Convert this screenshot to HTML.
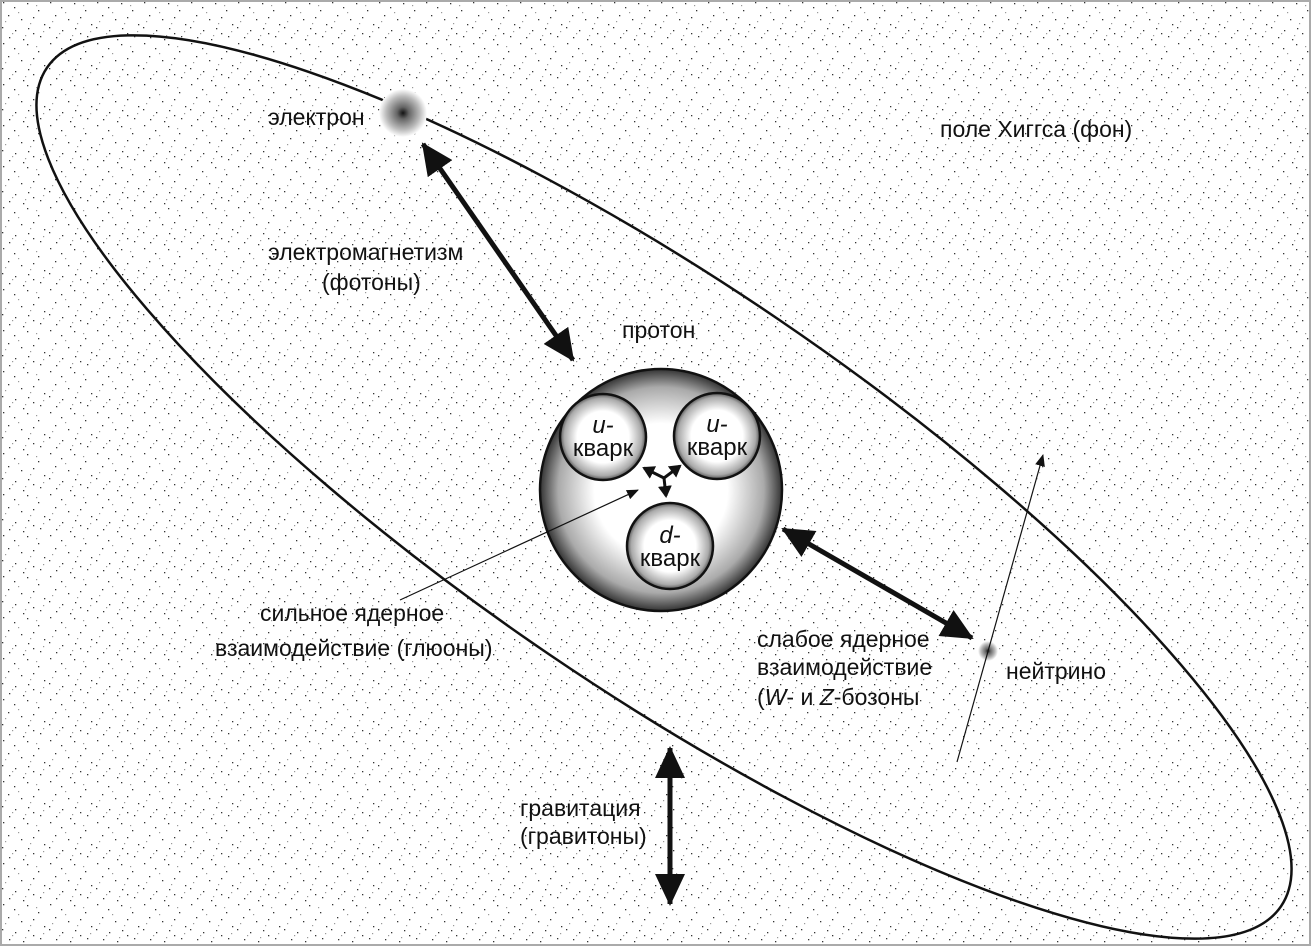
<!DOCTYPE html>
<html><head><meta charset="utf-8"><style>
html,body{margin:0;padding:0;background:#fff;width:1311px;height:946px;overflow:hidden}
svg{display:block}
text{font-family:"Liberation Sans",Arial,sans-serif;font-size:23px;fill:#111}
text.q{font-size:24px}
</style></head><body>
<svg width="1311" height="946" viewBox="0 0 1311 946" xmlns="http://www.w3.org/2000/svg">
<defs>
<pattern id="dots" width="47" height="41" patternUnits="userSpaceOnUse">
<rect width="47" height="41" fill="#fff"/>
<g fill="#333">
<rect x="3" y="2" width="1.3" height="1.3"/><rect x="14" y="7" width="1.3" height="1.3"/><rect x="27" y="3" width="1.3" height="1.3"/><rect x="38" y="10" width="1.3" height="1.3"/>
<rect x="8" y="15" width="1.3" height="1.3"/><rect x="21" y="19" width="1.3" height="1.3"/><rect x="33" y="17" width="1.3" height="1.3"/><rect x="44" y="24" width="1.3" height="1.3"/>
<rect x="2" y="27" width="1.3" height="1.3"/><rect x="15" y="30" width="1.3" height="1.3"/><rect x="28" y="28" width="1.3" height="1.3"/><rect x="40" y="36" width="1.3" height="1.3"/>
<rect x="9" y="37" width="1.3" height="1.3"/><rect x="23" y="39" width="1.3" height="1.3"/><rect x="33" y="33" width="1.3" height="1.3"/>
</g>
<g fill="#999">
<rect x="18" y="12" width="1.2" height="1.2"/><rect x="36" y="5" width="1.2" height="1.2"/><rect x="5" y="21" width="1.2" height="1.2"/><rect x="30" y="23" width="1.2" height="1.2"/><rect x="12" y="33" width="1.2" height="1.2"/><rect x="43" y="31" width="1.2" height="1.2"/><rect x="25" y="35" width="1.2" height="1.2"/>
</g>
</pattern>
<radialGradient id="blob"><stop offset="0" stop-color="#111"/><stop offset="0.25" stop-color="#666"/><stop offset="0.7" stop-color="#bbb"/><stop offset="1" stop-color="#fff"/></radialGradient>
<radialGradient id="big" cx="0.5" cy="0.5" r="0.5"><stop offset="0" stop-color="#fff"/><stop offset="0.55" stop-color="#fff"/><stop offset="0.85" stop-color="#aaa"/><stop offset="1" stop-color="#333"/></radialGradient>
<radialGradient id="q" cx="0.5" cy="0.5" r="0.5"><stop offset="0" stop-color="#fff"/><stop offset="0.6" stop-color="#fff"/><stop offset="0.9" stop-color="#aaa"/><stop offset="1" stop-color="#555"/></radialGradient>
<marker id="ah" markerUnits="userSpaceOnUse" markerWidth="34" markerHeight="30" refX="30" refY="15" orient="auto-start-reverse"><path d="M0,0 L32,15 L0,30 Z" fill="#111"/></marker>
<marker id="sh" markerUnits="userSpaceOnUse" markerWidth="12" markerHeight="10" refX="11" refY="5" orient="auto"><path d="M0,0 L12,5 L0,10 Z" fill="#111"/></marker>
<marker id="gh" markerUnits="userSpaceOnUse" markerWidth="14" markerHeight="14" refX="10" refY="7" orient="auto-start-reverse"><path d="M0,0 L12,7 L0,14 Z" fill="#111"/></marker>
</defs>
<rect width="1311" height="946" fill="#aaa"/>
<rect x="2" y="2" width="1307" height="942" fill="url(#dots)"/>
<ellipse cx="664" cy="487" rx="746" ry="203" transform="rotate(34.2 664 487)" fill="none" stroke="#111" stroke-width="2.5"/>
<circle cx="403" cy="113" r="24" fill="url(#blob)"/>
<circle cx="988" cy="651" r="10" fill="url(#blob)"/>
<line x1="957" y1="762" x2="1043" y2="455" stroke="#111" stroke-width="1.2" marker-end="url(#sh)"/>
<line x1="423" y1="144" x2="573" y2="360" stroke="#111" stroke-width="5" marker-start="url(#ah)" marker-end="url(#ah)"/>
<line x1="783" y1="529" x2="972" y2="638" stroke="#111" stroke-width="5" marker-start="url(#ah)" marker-end="url(#ah)"/>
<line x1="670" y1="748" x2="670" y2="904" stroke="#111" stroke-width="5" marker-start="url(#ah)" marker-end="url(#ah)"/>
<circle cx="661" cy="490" r="121" fill="url(#big)" stroke="#111" stroke-width="2.5"/>
<circle cx="603" cy="437" r="43" fill="url(#q)" stroke="#111" stroke-width="2.5"/>
<circle cx="717" cy="436" r="43" fill="url(#q)" stroke="#111" stroke-width="2.5"/>
<circle cx="670" cy="546" r="43" fill="url(#q)" stroke="#111" stroke-width="2.5"/>
<g stroke="#111" stroke-width="3" fill="none">
<line x1="664" y1="478" x2="644" y2="468" marker-end="url(#gh)"/>
<line x1="664" y1="478" x2="680" y2="466" marker-end="url(#gh)"/>
<line x1="664" y1="478" x2="666" y2="496" marker-end="url(#gh)"/>
</g>
<line x1="400" y1="600" x2="638" y2="490" stroke="#111" stroke-width="1.2" marker-end="url(#sh)"/>
<g text-anchor="middle">
<text class="q" x="603" y="433" font-style="italic">u-</text><text class="q" x="603" y="456">кварк</text>
<text class="q" x="717" y="432" font-style="italic">u-</text><text class="q" x="717" y="455">кварк</text>
<text class="q" x="670" y="543" font-style="italic">d-</text><text class="q" x="670" y="566">кварк</text>
</g>
<text x="268" y="125">электрон</text>
<text x="940" y="137">поле Хиггса (фон)</text>
<text x="268" y="260">электромагнетизм</text>
<text x="322" y="290">(фотоны)</text>
<text x="622" y="338">протон</text>
<text x="260" y="621">сильное ядерное</text>
<text x="215" y="656">взаимодействие (глюоны)</text>
<text x="757" y="647">слабое ядерное</text>
<text x="757" y="675">взаимодействие</text>
<text x="757" y="705">(<tspan font-style="italic">W</tspan>- и <tspan font-style="italic">Z</tspan>-бозоны</text>
<text x="1006" y="679">нейтрино</text>
<text x="520" y="816">гравитация</text>
<text x="520" y="844">(гравитоны)</text>
</svg>
</body></html>
